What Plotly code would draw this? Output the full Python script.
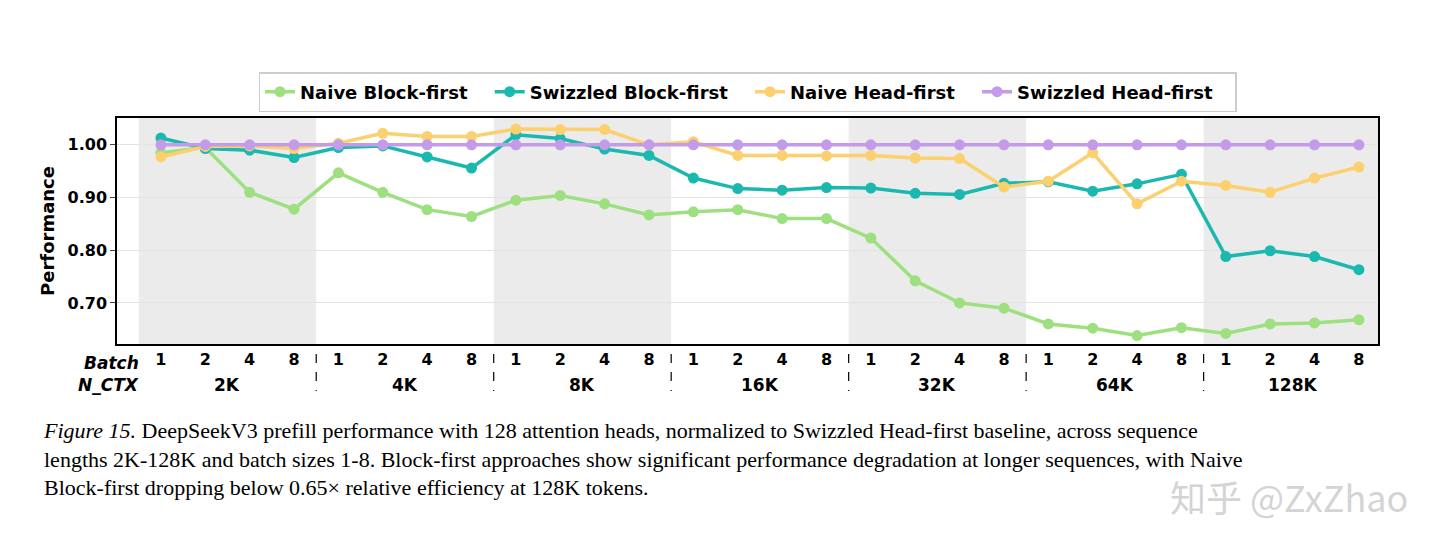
import plotly.graph_objects as go

ctx = ["2K", "4K", "8K", "16K", "32K", "64K", "128K"]
batches = ["1", "2", "4", "8"]
naive_block = [0.985, 0.995, 0.91, 0.878, 0.947, 0.91, 0.877, 0.864, 0.895, 0.904, 0.888, 0.867,
               0.873, 0.877, 0.86, 0.86, 0.823, 0.742, 0.70, 0.69, 0.66, 0.652, 0.638, 0.653,
               0.642, 0.66, 0.662, 0.668]
swizzled_block = [1.013, 0.993, 0.99, 0.976, 0.995, 0.998, 0.977, 0.956, 1.019, 1.012, 0.992, 0.98,
                  0.937, 0.917, 0.914, 0.919, 0.918, 0.908, 0.906, 0.927, 0.93, 0.912, 0.926, 0.944,
                  0.788, 0.799, 0.788, 0.763]
naive_head = [0.977, 0.997, 0.998, 0.993, 1.003, 1.022, 1.016, 1.016, 1.03, 1.029, 1.029, 1.0,
              1.006, 0.98, 0.98, 0.979, 0.98, 0.975, 0.974, 0.92, 0.931, 0.985, 0.888, 0.931,
              0.923, 0.91, 0.937, 0.958]
swizzled_head = [1.0] * 28

x = list(range(len(ctx) * len(batches)))
ticktext = batches * len(ctx)

L, T, B, H, W = 109, 110, 202, 538, 1440
PW, PH = W - L - 70, H - T - B
def px(xp): return (xp - L) / PW
def py(yp): return (H - B - yp) / PH

fig = go.Figure()
series = [("Naive Block-first", naive_block, "#9ee07f"),
          ("Swizzled Block-first", swizzled_block, "#1bb8b0"),
          ("Naive Head-first", naive_head, "#fcd06e"),
          ("Swizzled Head-first", swizzled_head, "#c39be8")]
for name, ys, c in series:
    fig.add_trace(go.Scatter(x=x, y=ys, name=f"<b>{name}</b>   ", mode="lines+markers",
                             line=dict(color=c, width=3.5), marker=dict(size=11, color=c)))

shapes = []
ann = []
for g, label in enumerate(ctx):
    if g % 2 == 0:
        shapes.append(dict(type="rect", xref="x", yref="paper", x0=g*4-0.5, x1=g*4+3.5,
                           y0=0, y1=1, fillcolor="#ebebeb", line_width=0, layer="below"))
    if g > 0:
        shapes.append(dict(type="line", xref="x", yref="paper", x0=g*4-0.5, x1=g*4-0.5,
                           y0=py(346), y1=py(383), line=dict(color="black", width=1.2, dash="dash")))
    ann.append(dict(x=g*4+1.5, y=py(377), xref="x", yref="paper", text=f"<b>{label}</b>",
                    showarrow=False, yanchor="middle", font=dict(size=17, color="black")))
ann.append(dict(x=px(133), y=py(355), xref="paper", yref="paper", text="<b><i>Batch</i></b>",
                showarrow=False, xanchor="right", yanchor="middle", font=dict(size=17, color="black")))
ann.append(dict(x=px(133), y=py(377), xref="paper", yref="paper", text="<b><i>N_CTX</i></b>",
                showarrow=False, xanchor="right", yanchor="middle", font=dict(size=17, color="black")))
caption = ("<i>Figure 15.</i> DeepSeekV3 prefill performance with 128 attention heads, normalized to Swizzled Head-first baseline, across sequence<br>"
           "lengths 2K-128K and batch sizes 1-8. Block-first approaches show significant performance degradation at longer sequences, with Naive<br>"
           "Block-first dropping below 0.65× relative efficiency at 128K tokens.")
ann.append(dict(x=px(33), y=py(408), xref="paper", yref="paper", text=caption, showarrow=False,
                xanchor="left", yanchor="top", align="left",
                font=dict(family="Liberation Serif", size=22, color="black")))
ann.append(dict(x=px(1402), y=py(460), xref="paper", yref="paper", text="知乎 @ZxZhao",
                showarrow=False, xanchor="right", yanchor="top",
                font=dict(family="Noto Sans CJK SC", size=36, color="rgba(200,200,200,0.8)")))

fig.update_layout(
    width=W, height=H, plot_bgcolor="white", paper_bgcolor="white",
    margin=dict(l=L, r=70, t=T, b=B, autoexpand=False),
    font=dict(family="DejaVu Sans", color="black"),
    shapes=shapes, annotations=ann,
    legend=dict(orientation="h", x=0.5, xanchor="center", y=py(64), yanchor="top",
                bordercolor="#cccccc", borderwidth=1.5, font=dict(size=18, family="DejaVu Sans"),
                traceorder="normal"),
    xaxis=dict(range=[-0.99, 27.43], tickvals=x, ticktext=[f"<b>{t}</b>" for t in ticktext],
               tickfont=dict(size=16), showgrid=False, zeroline=False, showline=True,
               linecolor="black", linewidth=1.5, mirror=True, ticks="", automargin=False),
    yaxis=dict(range=[0.622, 1.051], tickvals=[0.7, 0.8, 0.9, 1.0],
               ticktext=["<b>0.70</b>", "<b>0.80</b>", "<b>0.90</b>", "<b>1.00</b>"],
               tickfont=dict(size=16), showgrid=True, gridcolor="#e3e3e3", zeroline=False,
               showline=True, linecolor="black", linewidth=1.5, mirror=True, ticks="outside",
               automargin=False,
               title=dict(text="<b>Performance</b>", font=dict(size=18), standoff=8)),
)
fig.write_html("out.html")
